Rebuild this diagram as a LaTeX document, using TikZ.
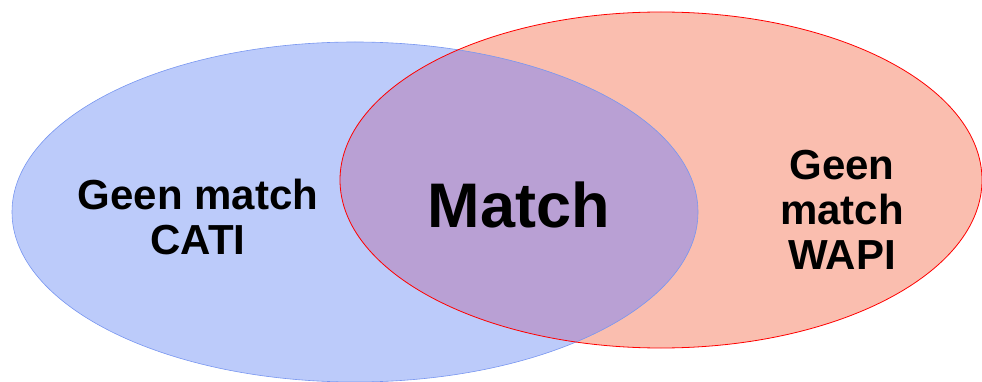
\documentclass[tikz,border=0pt]{standalone}
\usepackage{fontspec}
\setmainfont{Liberation Sans}
\begin{document}
\begin{tikzpicture}[x=1pt,y=-1pt,
  lbl/.style={font=\fontsize{42}{45}\selectfont\bfseries, align=center, inner sep=0pt},
  big/.style={font=\fontsize{63}{66}\selectfont\bfseries, inner sep=0pt}]
\useasboundingbox (0,0) rectangle (982,382);
\definecolor{bluefill}{RGB}{188,203,250}
\definecolor{redfill}{RGB}{250,190,175}
\definecolor{overlapfill}{RGB}{185,160,212}
\definecolor{blueline}{RGB}{120,150,240}
\fill[bluefill] (355,212) ellipse [x radius=343, y radius=170];
\fill[redfill] (661,180) ellipse [x radius=321, y radius=168];
\begin{scope}
\clip (355,212) ellipse [x radius=343, y radius=170];
\fill[overlapfill] (661,180) ellipse [x radius=321, y radius=168];
\end{scope}
\draw[blueline, line width=0.6pt] (355,212) ellipse [x radius=343, y radius=170];
\draw[red, line width=0.8pt] (661,180) ellipse [x radius=321, y radius=168];
\node[lbl] (cati) at (198,217) {Geen match\\CATI};
\node[big] (match) at (519,205) {Match};
\node[lbl] (wapi) at (842,210) {Geen\\match\\WAPI};
\end{tikzpicture}
\end{document}
